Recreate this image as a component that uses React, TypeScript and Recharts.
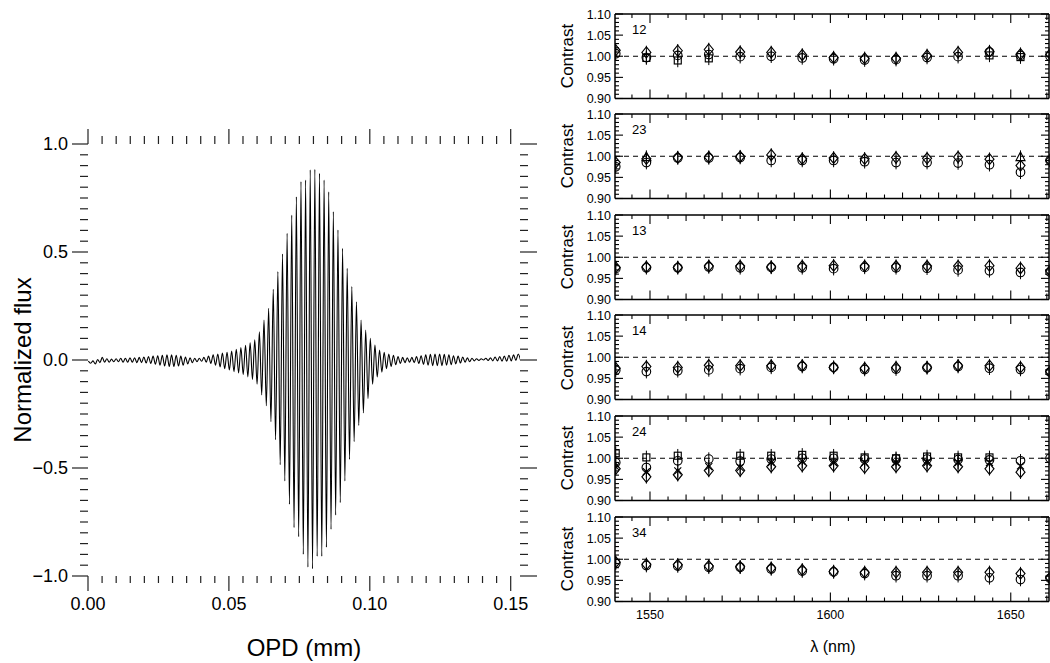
import React from 'react';
import { LineChart, Line, XAxis, YAxis, ScatterChart, Scatter, ErrorBar, ReferenceLine } from 'recharts';

const FONT = '"Liberation Sans", Arial, Helvetica, sans-serif';
const TICK = '#222';

// ---------------- Interferogram (left panel) ----------------
const fringeStartOpd = 0.00014; // mm, first fringe maximum
const fringePeriod = 0.00164; // mm, spacing of fringe maxima
const peakFlux = [
  -0.005, -0.004, 0.002, 0.012, 0.006, 0.004, 0.006, 0.008, 0.008, 0.010,
  0.010, 0.012, 0.014, 0.016, 0.018, 0.020, 0.022, 0.024, 0.024, 0.022,
  0.018, 0.014, 0.010, 0.008, 0.008, 0.012, 0.018, 0.024, 0.028, 0.032,
  0.036, 0.042, 0.050, 0.058, 0.068, 0.080, 0.093, 0.131, 0.185, 0.239,
  0.327, 0.409, 0.491, 0.586, 0.671, 0.756, 0.826, 0.833, 0.880, 0.883,
  0.864, 0.833, 0.779, 0.687, 0.602, 0.517, 0.424, 0.340, 0.270, 0.185,
  0.139, 0.100, 0.069, 0.046, 0.036, 0.028, 0.022, 0.016, 0.012, 0.010,
  0.012, 0.016, 0.020, 0.024, 0.026, 0.028, 0.028, 0.026, 0.024, 0.020,
  0.018, 0.014, 0.010, 0.008, 0.006, 0.006, 0.008, 0.010, 0.014, 0.016,
  0.018, 0.022, 0.024, 0.028,
];
const troughFlux = [
  -0.015, -0.018, -0.012, -0.010, -0.010, -0.008, -0.008, -0.010, -0.010, -0.010,
  -0.012, -0.012, -0.014, -0.016, -0.020, -0.024, -0.028, -0.030, -0.030, -0.028,
  -0.024, -0.018, -0.012, -0.008, -0.006, -0.010, -0.016, -0.024, -0.032, -0.040,
  -0.046, -0.054, -0.060, -0.068, -0.078, -0.090, -0.112, -0.162, -0.212, -0.286,
  -0.369, -0.485, -0.560, -0.668, -0.776, -0.818, -0.900, -0.959, -0.967, -0.909,
  -0.909, -0.867, -0.784, -0.718, -0.660, -0.560, -0.460, -0.378, -0.303, -0.245,
  -0.178, -0.112, -0.079, -0.056, -0.040, -0.030, -0.022, -0.016, -0.012, -0.010,
  -0.012, -0.016, -0.020, -0.024, -0.026, -0.026, -0.026, -0.024, -0.022, -0.018,
  -0.014, -0.010, -0.008, -0.004, -0.002, 0.000, -0.002, -0.004, -0.004, -0.006,
  -0.006, -0.004, -0.002, 0.000,
];
const opdDomain: [number, number] = [0, 0.1533];
const opdMajorTicks = [0, 0.05, 0.1, 0.15];
const opdMinorStep = 0.005;
const fluxMajorTicks = [-1, -0.5, 0, 0.5, 1];
const fluxMinorStep = 0.05;

// ---------------- Contrast panels (right) ----------------
const wavelength = [1540.5, 1549.0, 1557.7, 1566.3, 1575.0, 1583.6, 1592.2, 1600.9, 1609.5, 1618.2, 1626.8, 1635.4, 1644.1, 1652.7, 1660.9];
const lambdaDomain: [number, number] = [1540.3, 1660.6];
const lambdaLabels = [1550, 1600, 1650];
const contrastDomain: [number, number] = [0.9, 1.1];
const contrastLabels = [0.9, 0.95, 1.0, 1.05, 1.1];
const contrastError = 0.016;

const c12Diamond = [1.014, 1.009, 1.013, 1.016, 1.010, 1.009, 1.003, 0.997, 0.995, 0.995, 1.002, 1.009, 1.011, 1.005, 1.005];
const c12Circle = [1.006, 0.997, 1.002, 1.004, 0.999, 1.000, 0.996, 0.994, 0.991, 0.992, 0.997, 0.999, 1.010, 1.002, 1.000];
const c12Square = [null, 0.996, 0.990, 0.995, null, null, null, null, null, null, null, null, 1.002, 0.998, null];

const c23Diamond = [0.985, 0.994, 0.997, 0.998, 0.999, 1.003, 0.994, 0.996, 0.994, 0.997, 0.995, 0.998, 0.993, 0.978, 0.990];
const c23Circle = [0.975, 0.985, 0.996, 0.996, 0.997, 0.990, 0.990, 0.990, 0.987, 0.985, 0.985, 0.984, 0.980, 0.962, 0.990];
const c23Triangle = [null, 0.998, null, null, null, null, null, null, null, null, null, null, null, 0.998, null];

const c13Diamond = [0.976, 0.977, 0.976, 0.979, 0.979, 0.977, 0.979, 0.980, 0.979, 0.979, 0.979, 0.979, 0.980, 0.974, 0.968];
const c13Circle = [0.973, 0.975, 0.975, 0.977, 0.975, 0.976, 0.975, 0.973, 0.976, 0.975, 0.974, 0.970, 0.968, 0.964, 0.965];

const c14Diamond = [0.974, 0.978, 0.976, 0.981, 0.980, 0.980, 0.980, 0.976, 0.974, 0.976, 0.976, 0.980, 0.980, 0.976, 0.966];
const c14Circle = [0.969, 0.966, 0.968, 0.970, 0.973, 0.976, 0.978, 0.976, 0.971, 0.972, 0.975, 0.978, 0.974, 0.971, 0.965];

const c24Square = [1.012, 1.002, 1.006, null, 1.006, 1.006, 1.008, 1.006, 1.002, 1.000, 1.004, 1.002, 1.002, null, null];
const c24Circle = [0.990, 0.978, 0.994, 0.998, 0.993, 0.998, 1.000, 1.000, 0.998, 0.998, 0.998, 0.997, 0.996, 0.994, 1.000];
const c24Cross = [0.980, 0.968, 0.970, 0.980, 0.978, 0.990, 0.992, 0.990, 0.990, 0.990, 0.990, 0.990, 0.990, 0.982, null];
const c24Diamond = [0.975, 0.956, 0.961, 0.971, 0.971, 0.980, 0.982, 0.982, 0.978, 0.980, 0.982, 0.980, 0.975, 0.967, null];

const c34Diamond = [0.993, 0.988, 0.987, 0.984, 0.982, 0.979, 0.975, 0.971, 0.969, 0.969, 0.969, 0.969, 0.969, 0.966, 0.956];
const c34Circle = [0.990, 0.985, 0.984, 0.981, 0.981, 0.977, 0.972, 0.970, 0.966, 0.961, 0.961, 0.961, 0.956, 0.952, 0.955];

type Series = { shape: string; values: (number | null)[] };
const panels: { name: string; series: Series[] }[] = [
  { name: '12', series: [{ shape: 'square', values: c12Square }, { shape: 'circle', values: c12Circle }, { shape: 'diamond', values: c12Diamond }] },
  { name: '23', series: [{ shape: 'triangle', values: c23Triangle }, { shape: 'circle', values: c23Circle }, { shape: 'diamond', values: c23Diamond }] },
  { name: '13', series: [{ shape: 'circle', values: c13Circle }, { shape: 'diamond', values: c13Diamond }] },
  { name: '14', series: [{ shape: 'circle', values: c14Circle }, { shape: 'diamond', values: c14Diamond }] },
  { name: '24', series: [{ shape: 'square', values: c24Square }, { shape: 'circle', values: c24Circle }, { shape: 'cross', values: c24Cross }, { shape: 'diamond', values: c24Diamond }] },
  { name: '34', series: [{ shape: 'circle', values: c34Circle }, { shape: 'diamond', values: c34Diamond }] },
];

// ---------------- helpers ----------------
const near = (v: number, step: number) => {
  const r = v / step;
  return Math.abs(r - Math.round(r)) < 1e-6;
};
const range = (a: number, b: number, step: number) => {
  const out: number[] = [];
  const n = Math.round((b - a) / step);
  for (let i = 0; i <= n; i++) out.push(Math.round((a + i * step) * 1e6) / 1e6);
  return out;
};
const opdTicks = range(opdMajorTicks[0], opdMajorTicks[opdMajorTicks.length - 1], opdMinorStep);
const fluxTicks = range(fluxMajorTicks[0], fluxMajorTicks[fluxMajorTicks.length - 1], fluxMinorStep);
const lambdaTicks = range(1545, 1660, 5);
const contrastTicks = range(contrastDomain[0], contrastDomain[1], 0.01);
const isLambdaLabel = (v: number) => lambdaLabels.some((l) => Math.abs(l - v) < 1e-6);
const isContrastLabel = (v: number) => contrastLabels.some((l) => Math.abs(l - v) < 1e-6);

const interferogram: { opd: number; flux: number }[] = [];
peakFlux.forEach((p, i) => {
  interferogram.push({ opd: fringeStartOpd + i * fringePeriod, flux: p });
  interferogram.push({ opd: fringeStartOpd + (i + 0.5) * fringePeriod, flux: troughFlux[i] });
});

const fmtFlux = (v: number) => (v < 0 ? '\u2212' : '') + Math.abs(v).toFixed(1);

// left chart ticks (outward)
const OpdBottomTick = (p: any) => {
  const { x, y, payload } = p;
  const major = near(payload.value, 0.05);
  return (
    <g>
      <line x1={x} x2={x} y1={y} y2={y + (major ? 15 : 7)} stroke={TICK} strokeWidth={1.2} />
      {major && (
        <text x={x} y={y + 34} textAnchor="middle" fontSize={18} fontFamily={FONT} fill="#000">
          {payload.value.toFixed(2)}
        </text>
      )}
    </g>
  );
};
const OpdTopTick = (p: any) => {
  const { x, y, payload } = p;
  const major = near(payload.value, 0.05);
  return <line x1={x} x2={x} y1={y} y2={y - (major ? 15 : 8)} stroke={TICK} strokeWidth={1.2} />;
};
const FluxLeftTick = (p: any) => {
  const { x, y, payload } = p;
  const major = near(payload.value, 0.5);
  return (
    <g>
      <line x1={x} x2={x - (major ? 16 : 8)} y1={y} y2={y} stroke={TICK} strokeWidth={1.2} />
      {major && (
        <text x={x - 20} y={y} dy="0.36em" textAnchor="end" fontSize={18} fontFamily={FONT} fill="#000">
          {fmtFlux(payload.value)}
        </text>
      )}
    </g>
  );
};
const FluxRightTick = (p: any) => {
  const { x, y, payload } = p;
  const major = near(payload.value, 0.5);
  return <line x1={x} x2={x + (major ? 17 : 8)} y1={y} y2={y} stroke={TICK} strokeWidth={1.2} />;
};

// panel ticks (inward)
const lamLen = (v: number) => (near(v, 50) ? 9 : near(v, 10) ? 6 : 4);
const LamBottomTick = (withLabel: boolean) => (p: any) => {
  const { x, y, payload } = p;
  const v = payload.value;
  return (
    <g>
      <line x1={x} x2={x} y1={y} y2={y - lamLen(v)} stroke="#000" strokeWidth={1.1} />
      {withLabel && isLambdaLabel(v) && (
        <text x={x} y={y + 17} textAnchor="middle" fontSize={12.5} fontFamily={FONT} fill="#000">
          {v}
        </text>
      )}
    </g>
  );
};
const LamTopTick = (p: any) => {
  const { x, y, payload } = p;
  return <line x1={x} x2={x} y1={y} y2={y + lamLen(payload.value)} stroke="#000" strokeWidth={1.1} />;
};
const ConLeftTick = (p: any) => {
  const { x, y, payload } = p;
  const major = isContrastLabel(payload.value);
  return (
    <g>
      <line x1={x} x2={x + (major ? 8 : 4)} y1={y} y2={y} stroke="#000" strokeWidth={1.1} />
      {major && (
        <text x={x - 4} y={y} dy="0.36em" textAnchor="end" fontSize={12.5} fontFamily={FONT} fill="#000">
          {payload.value.toFixed(2)}
        </text>
      )}
    </g>
  );
};
const ConRightTick = (p: any) => {
  const { x, y, payload } = p;
  const major = isContrastLabel(payload.value);
  return <line x1={x} x2={x - (major ? 8 : 4)} y1={y} y2={y} stroke="#000" strokeWidth={1.1} />;
};

// markers
const SW = 1.15;
const makeShape = (shape: string) => (p: any) => {
  const { cx, cy } = p;
  if (cx == null || cy == null) return <g />;
  switch (shape) {
    case 'diamond':
      return <path d={`M${cx},${cy - 5.5} L${cx + 4.5},${cy} L${cx},${cy + 5.5} L${cx - 4.5},${cy} Z`} fill="none" stroke="#000" strokeWidth={SW} />;
    case 'circle':
      return <circle cx={cx} cy={cy} r={4.3} fill="none" stroke="#000" strokeWidth={SW} />;
    case 'square':
      return <rect x={cx - 3.5} y={cy - 3.5} width={7} height={7} fill="none" stroke="#000" strokeWidth={SW} />;
    case 'triangle':
      return <path d={`M${cx},${cy - 5} L${cx + 4.5},${cy + 3.5} L${cx - 4.5},${cy + 3.5} Z`} fill="none" stroke="#000" strokeWidth={SW} />;
    default:
      return <path d={`M${cx - 3.5},${cy - 3.5} L${cx + 3.5},${cy + 3.5} M${cx + 3.5},${cy - 3.5} L${cx - 3.5},${cy + 3.5}`} fill="none" stroke="#000" strokeWidth={SW} />;
  }
};

const panelTop0 = 13.5;
const panelPitch = 100.6;
const panelPlotH = 84.5;
const padT = 12;
const FRAME = { stroke: '#000', strokeWidth: 1.5 };

const InterferogramChart = () => (
  <LineChart width={540} height={663} data={interferogram} margin={{ top: 130, right: 0, bottom: 0, left: 0 }}>
    <XAxis xAxisId="b" type="number" dataKey="opd" domain={opdDomain} allowDataOverflow ticks={opdTicks} interval={0}
      orientation="bottom" height={87} axisLine={false} tickLine={false} tickSize={0} tickMargin={0} tick={OpdBottomTick} />
    <XAxis xAxisId="t" type="number" dataKey="opd" domain={opdDomain} allowDataOverflow ticks={opdTicks} interval={0}
      orientation="top" height={14} axisLine={false} tickLine={false} tickSize={0} tickMargin={0} tick={OpdTopTick} />
    <YAxis yAxisId="l" type="number" domain={[-1, 1]} allowDataOverflow ticks={fluxTicks} interval={0}
      width={88} axisLine={false} tickLine={false} tickSize={0} tickMargin={0} tick={FluxLeftTick} />
    <YAxis yAxisId="r" orientation="right" type="number" domain={[-1, 1]} allowDataOverflow ticks={fluxTicks} interval={0}
      width={20} axisLine={false} tickLine={false} tickSize={0} tickMargin={0} tick={FluxRightTick} />
    <Line xAxisId="b" yAxisId="l" type="monotone" dataKey="flux" stroke="#000" strokeWidth={1.1} dot={false} isAnimationActive={false} />
  </LineChart>
);

const Panel = ({ idx }: { idx: number }) => {
  const p = panels[idx];
  const top = panelTop0 + idx * panelPitch;
  const last = idx === panels.length - 1;
  const h = last ? 663 - (top - padT) : panelPlotH + 2 * padT;
  const mb = h - padT - panelPlotH;
  return (
    <div style={{ position: 'absolute', left: 540, top: top - padT }}>
      <ScatterChart width={510} height={h} margin={{ top: padT - 1, right: 0, bottom: mb - 1, left: 0 }}>
        <XAxis xAxisId="b" type="number" dataKey="x" domain={lambdaDomain} allowDataOverflow ticks={lambdaTicks} interval={0}
          orientation="bottom" height={1} axisLine={FRAME} tickLine={false} tickSize={0} tickMargin={0}
          tick={LamBottomTick(last)} />
        <XAxis xAxisId="t" type="number" dataKey="x" domain={lambdaDomain} allowDataOverflow ticks={lambdaTicks} interval={0}
          orientation="top" height={1} axisLine={FRAME} tickLine={false} tickSize={0} tickMargin={0}
          tick={LamTopTick} />
        <YAxis yAxisId="l" type="number" dataKey="y" domain={contrastDomain} allowDataOverflow ticks={contrastTicks} interval={0}
          width={75} axisLine={FRAME} tickLine={false} tickSize={0} tickMargin={0} tick={ConLeftTick} />
        <YAxis yAxisId="r" orientation="right" type="number" dataKey="y" domain={contrastDomain} allowDataOverflow ticks={contrastTicks} interval={0}
          width={1} axisLine={FRAME} tickLine={false} tickSize={0} tickMargin={0} tick={ConRightTick} />
        <ReferenceLine xAxisId="b" yAxisId="l" y={1} stroke="#000" strokeWidth={1} strokeDasharray="5 4" />
        {p.series.map((s, si) => {
          const data = wavelength
            .map((w, i) => ({ x: w, y: s.values[i], err: contrastError }))
            .filter((d) => d.y != null);
          return (
            <Scatter key={si} xAxisId="b" yAxisId="l" data={data} dataKey="y" shape={makeShape(s.shape)} isAnimationActive={false}>
              <ErrorBar dataKey="err" direction="y" width={0} stroke="#000" strokeWidth={1} />
            </Scatter>
          );
        })}
      </ScatterChart>
    </div>
  );
};

const textStyle: React.CSSProperties = { position: 'absolute', fontFamily: FONT, color: '#000', whiteSpace: 'nowrap', lineHeight: 1 };

export default function App() {
  return (
    <div style={{ position: 'absolute', left: 0, top: 0, width: 1050, height: 663, background: '#fff', overflow: 'hidden' }}>
      <div style={{ position: 'absolute', left: 0, top: 0 }}>
        <InterferogramChart />
      </div>
      {panels.map((_, i) => (
        <Panel key={i} idx={i} />
      ))}
      <div style={{ ...textStyle, left: 23, top: 360, fontSize: 24, transform: 'translate(-50%,-50%) rotate(-90deg)' }}>Normalized flux</div>
      <div style={{ ...textStyle, left: 304, top: 648, fontSize: 24, transform: 'translate(-50%,-50%)' }}>OPD (mm)</div>
      <div style={{ ...textStyle, left: 833, top: 647, fontSize: 16, transform: 'translate(-50%,-50%)' }}>λ (nm)</div>
      {panels.map((p, i) => {
        const top = panelTop0 + i * panelPitch;
        return (
          <React.Fragment key={p.name}>
            <div style={{ ...textStyle, left: 567, top: top + panelPlotH / 2, fontSize: 17, transform: 'translate(-50%,-50%) rotate(-90deg)' }}>Contrast</div>
            <div style={{ ...textStyle, left: 632, top: top + 9, fontSize: 13 }}>{p.name}</div>
          </React.Fragment>
        );
      })}
    </div>
  );
}
